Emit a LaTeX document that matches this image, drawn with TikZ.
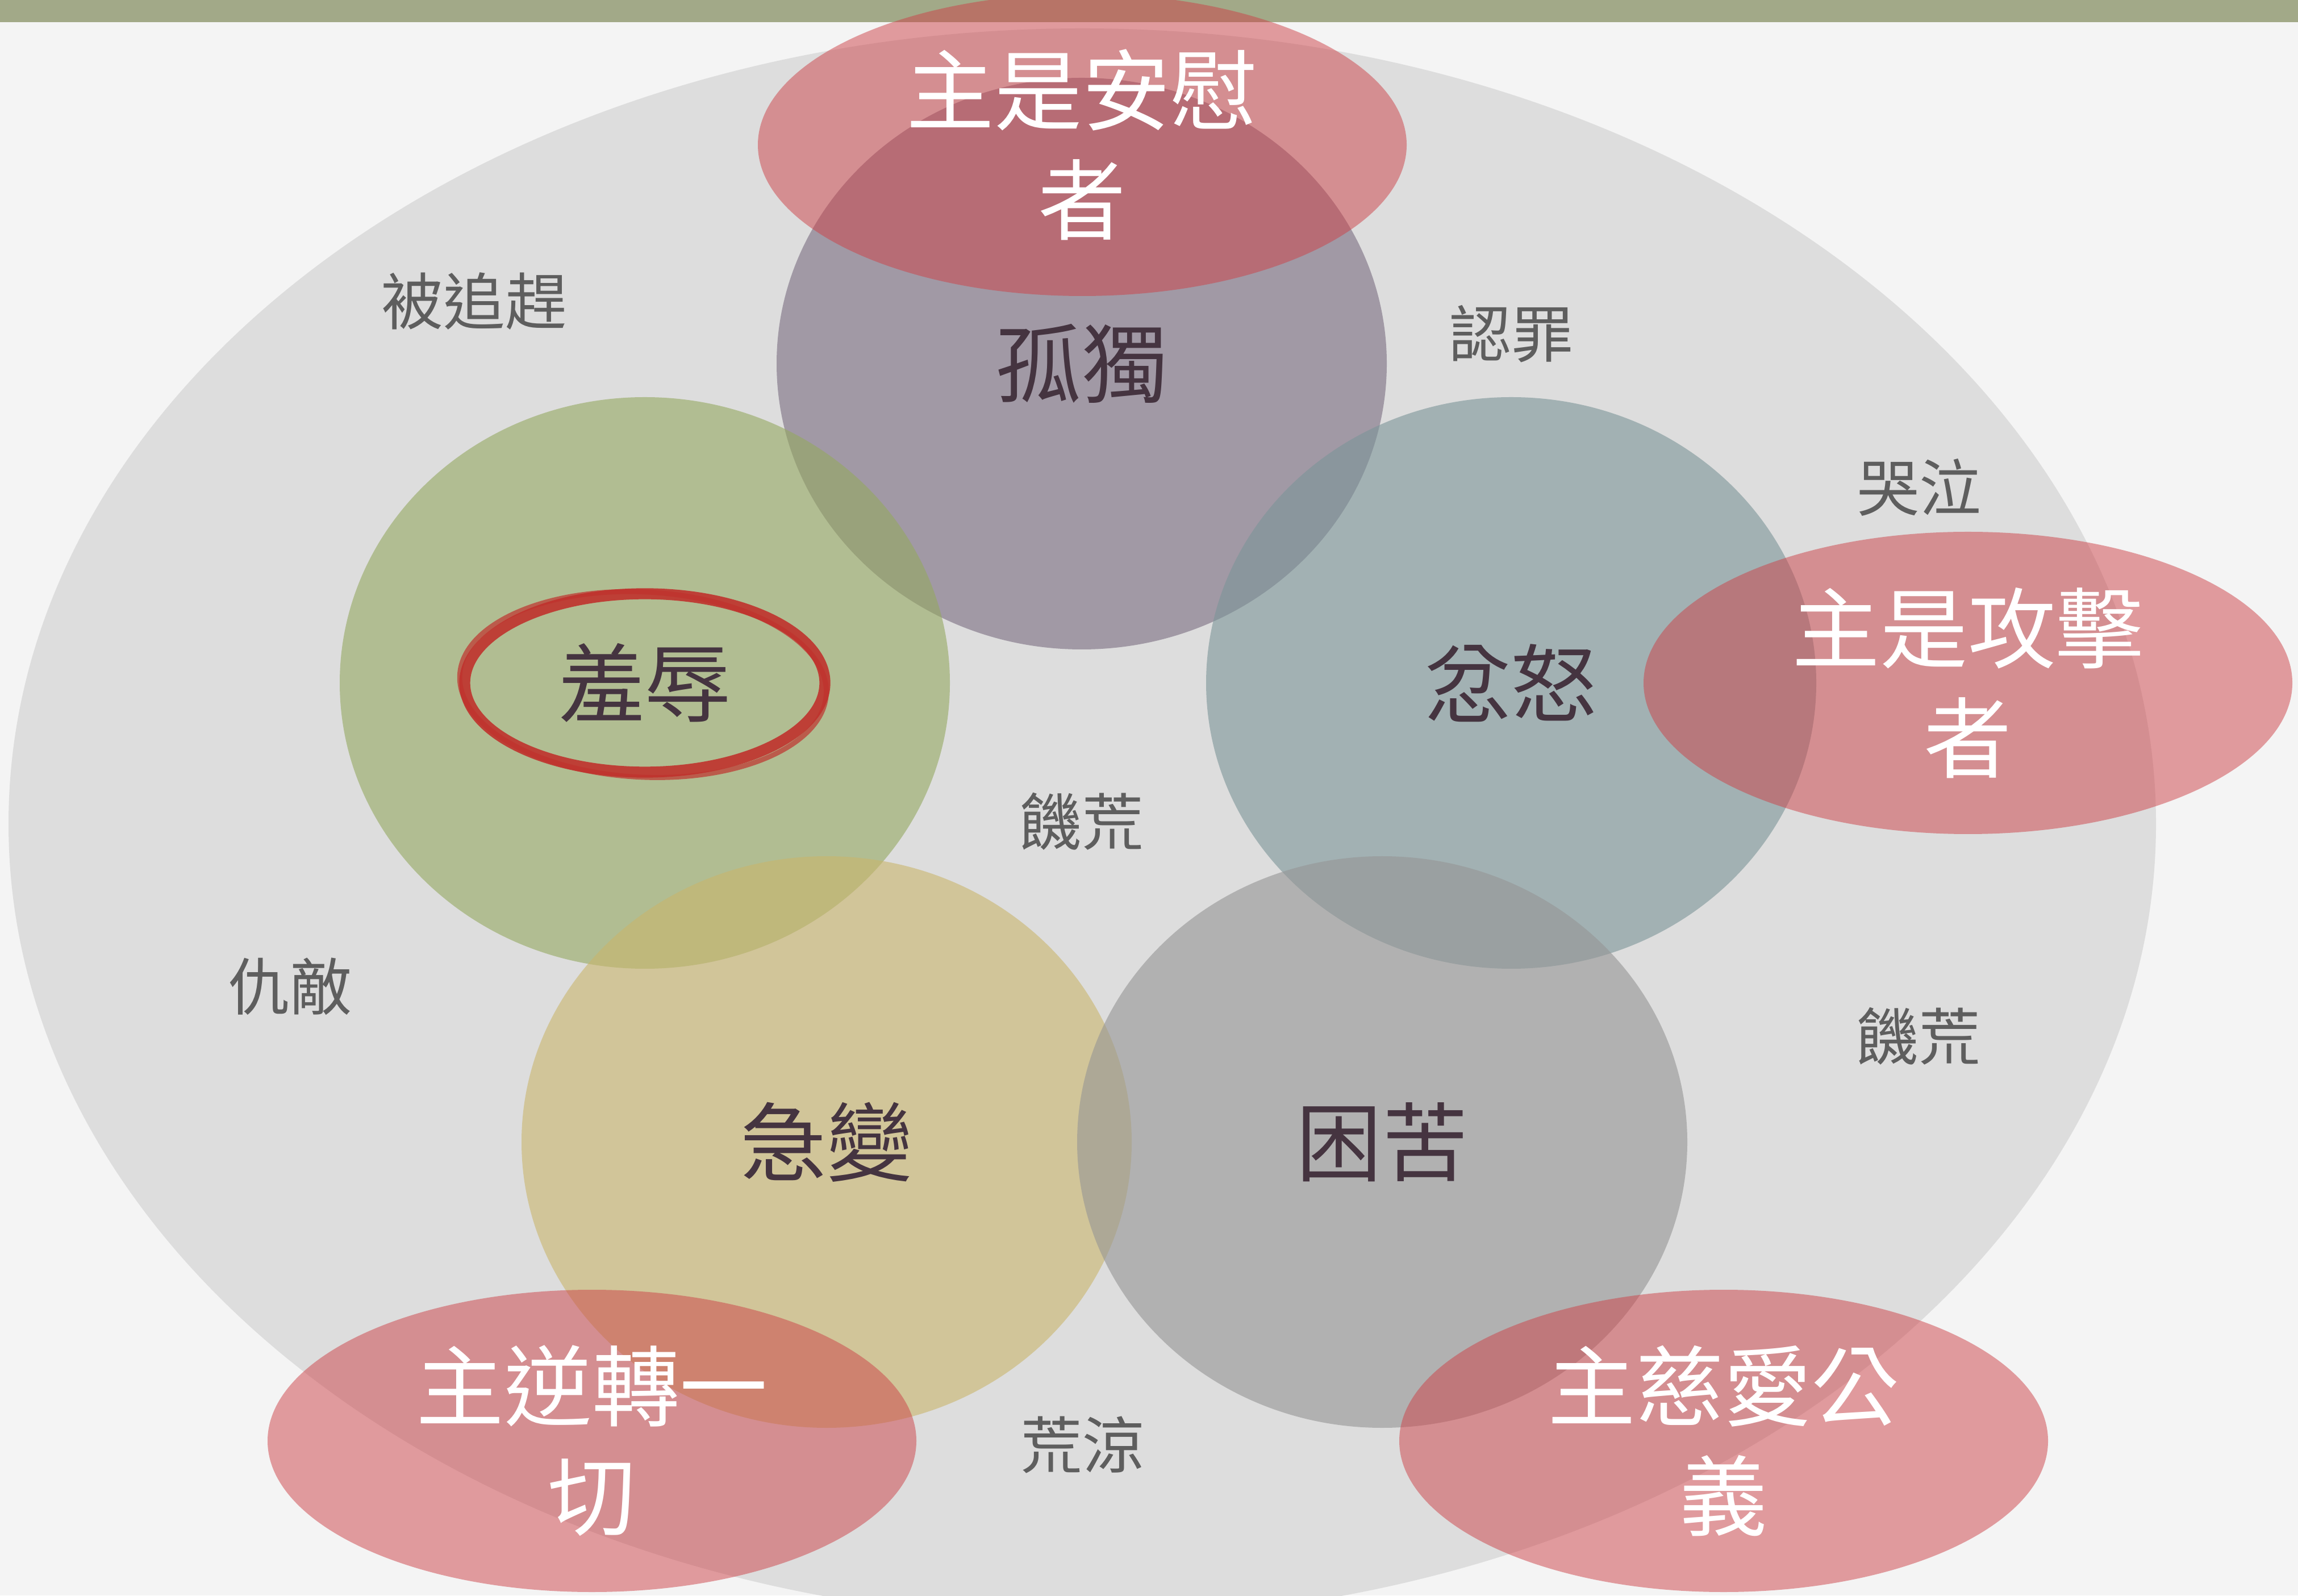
\documentclass[tikz,border=0pt]{standalone}
\usepackage{fontspec}
\newfontfamily\cjk{Noto Sans CJK TC}
\usetikzlibrary{shapes.geometric}
\definecolor{paper}{RGB}{244,244,244}
\definecolor{strip}{RGB}{162,169,136}
\definecolor{bigring}{RGB}{221,221,221}
\definecolor{lonely}{RGB}{121,108,129}
\definecolor{shamecol}{RGB}{149,169,96}
\definecolor{angercol}{RGB}{124,149,152}
\definecolor{changecol}{RGB}{201,181,109}
\definecolor{miserycol}{RGB}{149,149,149}
\definecolor{lordred}{RGB}{205,65,71}
\definecolor{ink}{RGB}{69,52,64}
\definecolor{hintgray}{RGB}{94,94,94}
\definecolor{ringred}{RGB}{192,50,45}

\begin{document}
\begin{tikzpicture}[feeling/.style={ellipse, fill opacity=0.6, text opacity=1,
      inner sep=0pt, minimum width=10.74cm, minimum height=10.06cm, text=ink,
      font=\cjk\fontsize{43}{52}\selectfont},
    lordbox/.style={ellipse, fill=lordred, fill opacity=0.5, text opacity=1,
      inner sep=0pt, minimum width=11.42cm, minimum height=5.32cm, text=white,
      align=center, font=\cjk\fontsize{44}{55}\selectfont},
    hint/.style={text=hintgray, inner sep=0pt, font=\cjk\fontsize{31}{36}\selectfont}]

    \useasboundingbox (0,0) rectangle (40.45,28.08);
    \clip (0,0) rectangle (40.45,28.08);
    \fill[paper] (0,0) rectangle (40.45,28.08);
    \fill[strip] (0,27.69) rectangle (40.45,28.08);
    \fill[bigring] (19.05,13.58) ellipse [x radius=18.90, y radius=14.00];

    % the five feelings
    \node[feeling, fill=lonely] (gudu) at (19.04,21.68) {孤獨};
    \node[feeling, fill=shamecol] (shame) at (11.35,16.06) {羞辱};
    \node[feeling, fill=angercol] (anger) at (26.60,16.06) {忿怒};
    \node[feeling, fill=changecol] (change) at (14.55,7.98) {急變};
    \node[feeling, fill=miserycol] (misery) at (24.33,7.98) {困苦};

    % what the Lord is
    \node[lordbox] (comfort) at (19.05,25.53) {主是安慰\\者};
    \node[lordbox] (attack) at (34.64,16.06) {主是攻擊\\者};
    \node[lordbox] (reverse) at (10.42,2.72) {主逆轉一\\切};
    \node[lordbox] (love) at (30.34,2.72) {主慈愛公\\義};

    % hand drawn ring round shame
    \draw[ringred, line width=5.5pt, opacity=0.9] (shame.center) ellipse [x radius=3.17, y radius=1.57];
    \draw[ringred, line width=2.5pt, opacity=0.7, rotate around={-3:(shame.center)}]
      ([shift={(-0.03,-0.03)}]shame.center) ellipse [x radius=3.23, y radius=1.63];

    % small words
    \node[hint] (chase) at (8.35,22.78) {被追趕};
    \node[hint] (confess) at (26.60,22.20) {認罪};
    \node[hint] (weep) at (33.78,19.50) {哭泣};
    \node[hint] (faminemid) at (19.04,13.62) {饑荒};
    \node[hint] (enemy) at (5.10,10.72) {仇敵};
    \node[hint] (famineright) at (33.77,9.84) {饑荒};
    \node[hint] (desolate) at (19.05,2.65) {荒涼};

\end{tikzpicture}
\end{document}
